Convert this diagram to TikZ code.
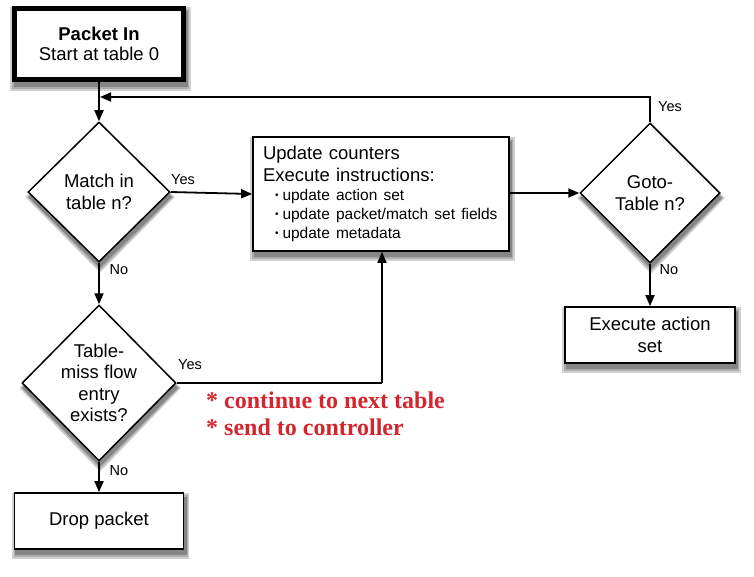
\documentclass[tikz,border=0pt]{standalone}
\usepackage{fontspec}
\setmainfont{Liberation Sans}
\newfontfamily\redfont{Liberation Serif}
\usetikzlibrary{shapes.geometric,arrows.meta,backgrounds}
\definecolor{notered}{RGB}{212,38,46}
\tikzset{
  base/.style={font=\fontsize{18.5}{21.5}\selectfont},
  boxnode/.style={base,draw,line width=1.8pt,fill=white,align=center,inner sep=0pt},
  decision/.style={draw,diamond,line width=1.5pt,fill=white,inner sep=0pt},
  dtext/.style={base,align=center,inner sep=0pt},
  conn/.style={line width=1.8pt,-{Triangle[length=11pt,width=9pt]}},
  lbl/.style={font=\fontsize{14.5}{17}\selectfont,inner sep=0pt},
  shadowfar/.style={fill=black!18},
  shadowmid/.style={fill=black!32},
  shadownear/.style={fill=black!48}
}
\newcommand{\bitem}[1]{{\fontsize{15.5}{19}\selectfont\hspace*{12pt}{\fontsize{10}{10}\selectfont\raisebox{1.5pt}{•}}\hspace{4pt}#1}}
\newcommand{\rectshadow}[1]{%
  \fill[shadowfar] ([xshift=-2pt,yshift=-9pt]#1.south west) rectangle ([xshift=5pt,yshift=-1pt]#1.north east);
  \fill[shadowmid] ([xshift=0pt,yshift=-7pt]#1.south west) rectangle ([xshift=3.5pt,yshift=-3pt]#1.north east);
  \fill[shadownear] ([xshift=1.5pt,yshift=-5pt]#1.south west) rectangle ([xshift=2.5pt,yshift=-4.5pt]#1.north east);}
\newcommand{\diashadow}[1]{%
  \fill[shadowfar] ([xshift=1pt,yshift=-10pt]#1.south) -- ([xshift=-2pt,yshift=-5pt]#1.west) -- ([xshift=1pt,yshift=-1pt]#1.north) -- ([xshift=4pt,yshift=-5pt]#1.east) -- cycle;
  \fill[shadowmid] ([xshift=1pt,yshift=-7.5pt]#1.south) -- ([xshift=0pt,yshift=-5pt]#1.west) -- ([xshift=1pt,yshift=-3pt]#1.north) -- ([xshift=2.5pt,yshift=-5pt]#1.east) -- cycle;
  \fill[shadownear] ([xshift=1pt,yshift=-5pt]#1.south) -- ([xshift=1pt,yshift=-5pt]#1.west) -- ([xshift=1pt,yshift=-5pt]#1.north) -- ([xshift=1pt,yshift=-5pt]#1.east) -- cycle;}
\begin{document}
\begin{tikzpicture}[x=1pt,y=-1pt]
\useasboundingbox (0,0) rectangle (754,576);

% nodes
\node[boxnode,line width=4.5pt,minimum width=169pt,minimum height=71pt] (start) at (99,44)
  {\textbf{Packet In}\\[-1pt]Start at table 0};
\coordinate (merge) at (99,97);

\node[decision,minimum width=142pt,minimum height=140pt] (match) at (99,192) {};
\node[dtext] (matcht) at (match.center) {Match in\\table n?};

\node[boxnode,minimum width=256pt,minimum height=114pt,text width=236pt,inner xsep=10pt,align=left] (update) at (381,194)
  {Update counters\\Execute instructions:\\[-2.5pt]
   \bitem{update action set}\\[-2.5pt]
   \bitem{update packet/match set fields}\\[-2.5pt]
   \bitem{update metadata}};

\node[decision,minimum width=140pt,minimum height=140pt] (goto) at (650,193) {};
\node[dtext] (gotot) at (goto.center) {Goto-\\Table n?};

\node[boxnode,minimum width=170pt,minimum height=56pt] (exec) at (650,335) {Execute action\\set};

\node[decision,minimum width=154pt,minimum height=156pt] (miss) at (99,383) {};
\node[dtext] (misst) at (miss.center) {Table-\\miss flow\\entry\\exists?};
\coordinate (corner) at (382,383);

\node[boxnode,minimum width=169pt,minimum height=56pt] (drop) at (99,521) {Drop packet};

\node[font=\redfont\bfseries\fontsize{24}{27}\selectfont,text=notered,align=left,anchor=west,inner sep=0pt] (note) at (206,414)
  {* continue to next table\\* send to controller};

% shadows
\begin{scope}[on background layer]
  \fill[white] (0,0) rectangle (754,576);
  \rectshadow{start}
  \rectshadow{update}
  \rectshadow{exec}
  \rectshadow{drop}
  \diashadow{match}
  \diashadow{goto}
  \diashadow{miss}
\end{scope}

% connectors
\draw[conn] (start) -- (match);
\draw[conn] (goto.north) |- ([xshift=1pt]merge);
\draw[conn] (match.east) -- (update.west);
\draw[conn] (match.south) -- (miss.north);
\draw[line width=1.8pt] (miss.east) -- (corner);
\draw[conn] (corner) -- (corner |- update.south);
\draw[conn] (miss.south) -- (drop.north);
\draw[conn] (update.east |- goto.west) -- (goto.west);
\draw[conn] (goto.south) -- (exec.north);

% labels
\node[lbl] (ly1) at (183,180) {Yes};
\node[lbl] (ln1) at (119,270) {No};
\node[lbl] (ly2) at (190,365) {Yes};
\node[lbl] (ln2) at (119,471) {No};
\node[lbl] (ly3) at (670,107) {Yes};
\node[lbl] (ln3) at (669,270) {No};
\end{tikzpicture}
\end{document}
